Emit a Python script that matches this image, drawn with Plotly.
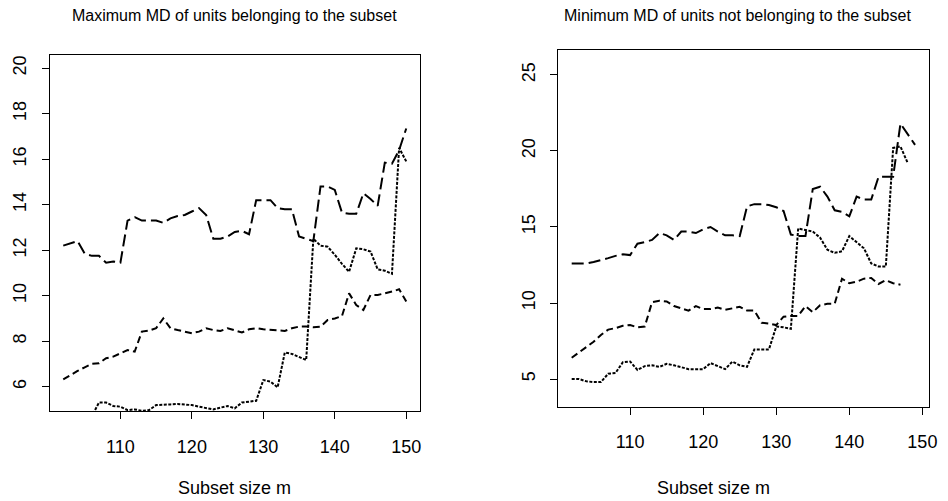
import plotly.graph_objects as go

# ---------------- data ----------------
m_left = list(range(102, 151))
left_long = [12.2, 12.3, 12.4, 11.85, 11.75, 11.75, 11.45, 11.5, 11.45, 13.3,
             13.45, 13.3, 13.3, 13.3, 13.2, 13.4, 13.5, 13.55, 13.7, 13.85,
             13.55, 12.5, 12.5, 12.6, 12.8, 12.85, 12.7, 14.2, 14.2, 14.2,
             13.85, 13.8, 13.8, 12.6, 12.5, 12.4, 14.8, 14.8, 14.65, 13.65,
             13.6, 13.6, 14.5, 14.25, 13.95, 15.85, 15.8, 16.4, 17.35]
left_mid = [6.32, 6.51, 6.69, 6.85, 7.0, 7.03, 7.25, 7.32, 7.47, 7.61,
            7.54, 8.42, 8.46, 8.57, 9.0, 8.57, 8.49, 8.42, 8.35, 8.42,
            8.57, 8.49, 8.45, 8.57, 8.49, 8.38, 8.52, 8.57, 8.52, 8.49,
            8.45, 8.45, 8.57, 8.64, 8.64, 8.61, 8.64, 8.93, 9.0, 9.1,
            10.1, 9.59, 9.37, 10.03, 10.03, 10.1, 10.18, 10.28, 9.74]
left_dot = [4.6, 4.6, 4.7, 4.7, 4.7, 5.3, 5.3, 5.15, 5.12, 4.97,
            5.0, 4.94, 4.97, 5.19, 5.22, 5.22, 5.24, 5.22, 5.19, 5.12,
            5.05, 5.0, 5.08, 5.15, 5.05, 5.3, 5.34, 5.38, 6.29, 6.22,
            5.97, 7.5, 7.44, 7.3, 7.17, 12.5, 12.2, 12.15, 11.8, 11.4,
            11.05, 12.08, 12.04, 11.94, 11.16, 11.1, 10.96, 16.5, 15.9]

m_right = list(range(102, 150))
right_long = [12.6, 12.6, 12.6, 12.7, 12.8, 12.95, 13.1, 13.2, 13.15, 13.9,
              14.0, 14.15, 14.6, 14.45, 14.15, 14.7, 14.7, 14.6, 14.85, 15.0,
              14.7, 14.45, 14.45, 14.4, 16.35, 16.5, 16.5, 16.45, 16.3, 16.05,
              14.5, 14.4, 14.4, 17.5, 17.65, 17.0, 16.1, 16.0, 15.7, 17.0,
              16.8, 16.8, 18.3, 18.3, 18.3, 21.8, 21.1, 20.4]
right_mid = [6.4, 6.75, 7.1, 7.45, 7.9, 8.25, 8.35, 8.5, 8.55, 8.4,
             8.45, 10.05, 10.15, 10.1, 9.8, 9.65, 9.5, 9.8, 9.6, 9.6,
             9.7, 9.55, 9.65, 9.75, 9.5, 9.5, 8.7, 8.65, 8.55, 9.1,
             9.15, 9.15, 9.8, 9.4, 9.85, 9.95, 9.95, 11.6, 11.3, 11.4,
             11.6, 11.65, 11.25, 11.5, 11.3, 11.2, None, None]
right_dot = [5.0, 5.0, 4.85, 4.8, 4.8, 5.35, 5.4, 6.1, 6.15, 5.6,
             5.85, 5.9, 5.8, 6.0, 5.9, 5.8, 5.65, 5.65, 5.65, 6.05,
             5.85, 5.65, 6.15, 5.9, 5.8, 6.95, 6.95, 6.95, 8.45, 8.4,
             8.3, 14.9, 14.8, 14.7, 14.3, 13.5, 13.3, 13.4, 14.4, 14.0,
             13.6, 12.6, 12.4, 12.4, 20.2, 20.3, 19.2, None]

x_ticks = [110, 120, 130, 140, 150]
left_y_ticks = [6, 8, 10, 12, 14, 16, 18, 20]
right_y_ticks = [5, 10, 15, 20, 25]

title_left = "Maximum MD of units belonging to the subset"
title_right = "Minimum MD of units not belonging to the subset"
x_label = "Subset size m"

# ---------------- figure ----------------
LONG = "12px,5px"
MID = "7px,4px"
DOT = "3px,1.5px"
W = 2

fig = go.Figure()
for ys, dash in [(left_long, LONG), (left_mid, MID), (left_dot, DOT)]:
    fig.add_trace(go.Scatter(x=m_left, y=ys, mode="lines", xaxis="x", yaxis="y",
                             line=dict(color="black", width=W, dash=dash),
                             showlegend=False, hoverinfo="skip"))
for ys, dash in [(right_long, LONG), (right_mid, MID), (right_dot, DOT)]:
    fig.add_trace(go.Scatter(x=m_right, y=ys, mode="lines", xaxis="x2", yaxis="y2",
                             line=dict(color="black", width=W, dash=dash),
                             showlegend=False, hoverinfo="skip"))

FONT = "Liberation Sans, Arial, sans-serif"
axis_common = dict(showgrid=False, zeroline=False, showline=True, mirror=True,
                   linecolor="black", linewidth=1, ticks="outside", ticklen=7,
                   tickcolor="black", tickfont=dict(family=FONT, size=18, color="black"))

W_PX, H_PX = 948, 501
fig.update_layout(
    width=W_PX, height=H_PX,
    margin=dict(l=0, r=0, t=0, b=0),
    paper_bgcolor="white", plot_bgcolor="white",
    xaxis=dict(domain=[50 / W_PX, 424 / W_PX], range=[100.08, 151.92],
               tickvals=x_ticks, anchor="y", ticklabelstandoff=12, **axis_common),
    yaxis=dict(domain=[1 - 411 / H_PX, 1 - 55 / H_PX], range=[4.93, 20.58],
               tickvals=left_y_ticks, tickangle=-90, anchor="x",
               ticklabelstandoff=8, **axis_common),
    xaxis2=dict(domain=[563.3 / W_PX, 937.7 / W_PX], range=[100.12, 150.88],
                tickvals=x_ticks, anchor="y2", ticklabelstandoff=12, **axis_common),
    yaxis2=dict(domain=[1 - 406.7 / H_PX, 1 - 50 / H_PX], range=[3.18, 26.64],
                tickvals=right_y_ticks, tickangle=-90, anchor="x2",
                ticklabelstandoff=8, **axis_common),
    annotations=[
        dict(text=title_left, x=237 / W_PX, y=1 - 16 / H_PX, xref="paper", yref="paper",
             showarrow=False, xanchor="center", yanchor="middle",
             font=dict(family=FONT, size=16, color="black")),
        dict(text=title_right, x=745 / W_PX, y=1 - 16 / H_PX, xref="paper", yref="paper",
             showarrow=False, xanchor="center", yanchor="middle",
             font=dict(family=FONT, size=16, color="black")),
        dict(text=x_label, x=237 / W_PX, y=1 - 488 / H_PX, xref="paper", yref="paper",
             showarrow=False, xanchor="center", yanchor="middle",
             font=dict(family=FONT, size=18, color="black")),
        dict(text=x_label, x=720 / W_PX, y=1 - 488 / H_PX, xref="paper", yref="paper",
             showarrow=False, xanchor="center", yanchor="middle",
             font=dict(family=FONT, size=18, color="black")),
    ],
)

fig.write_html("out.html")
